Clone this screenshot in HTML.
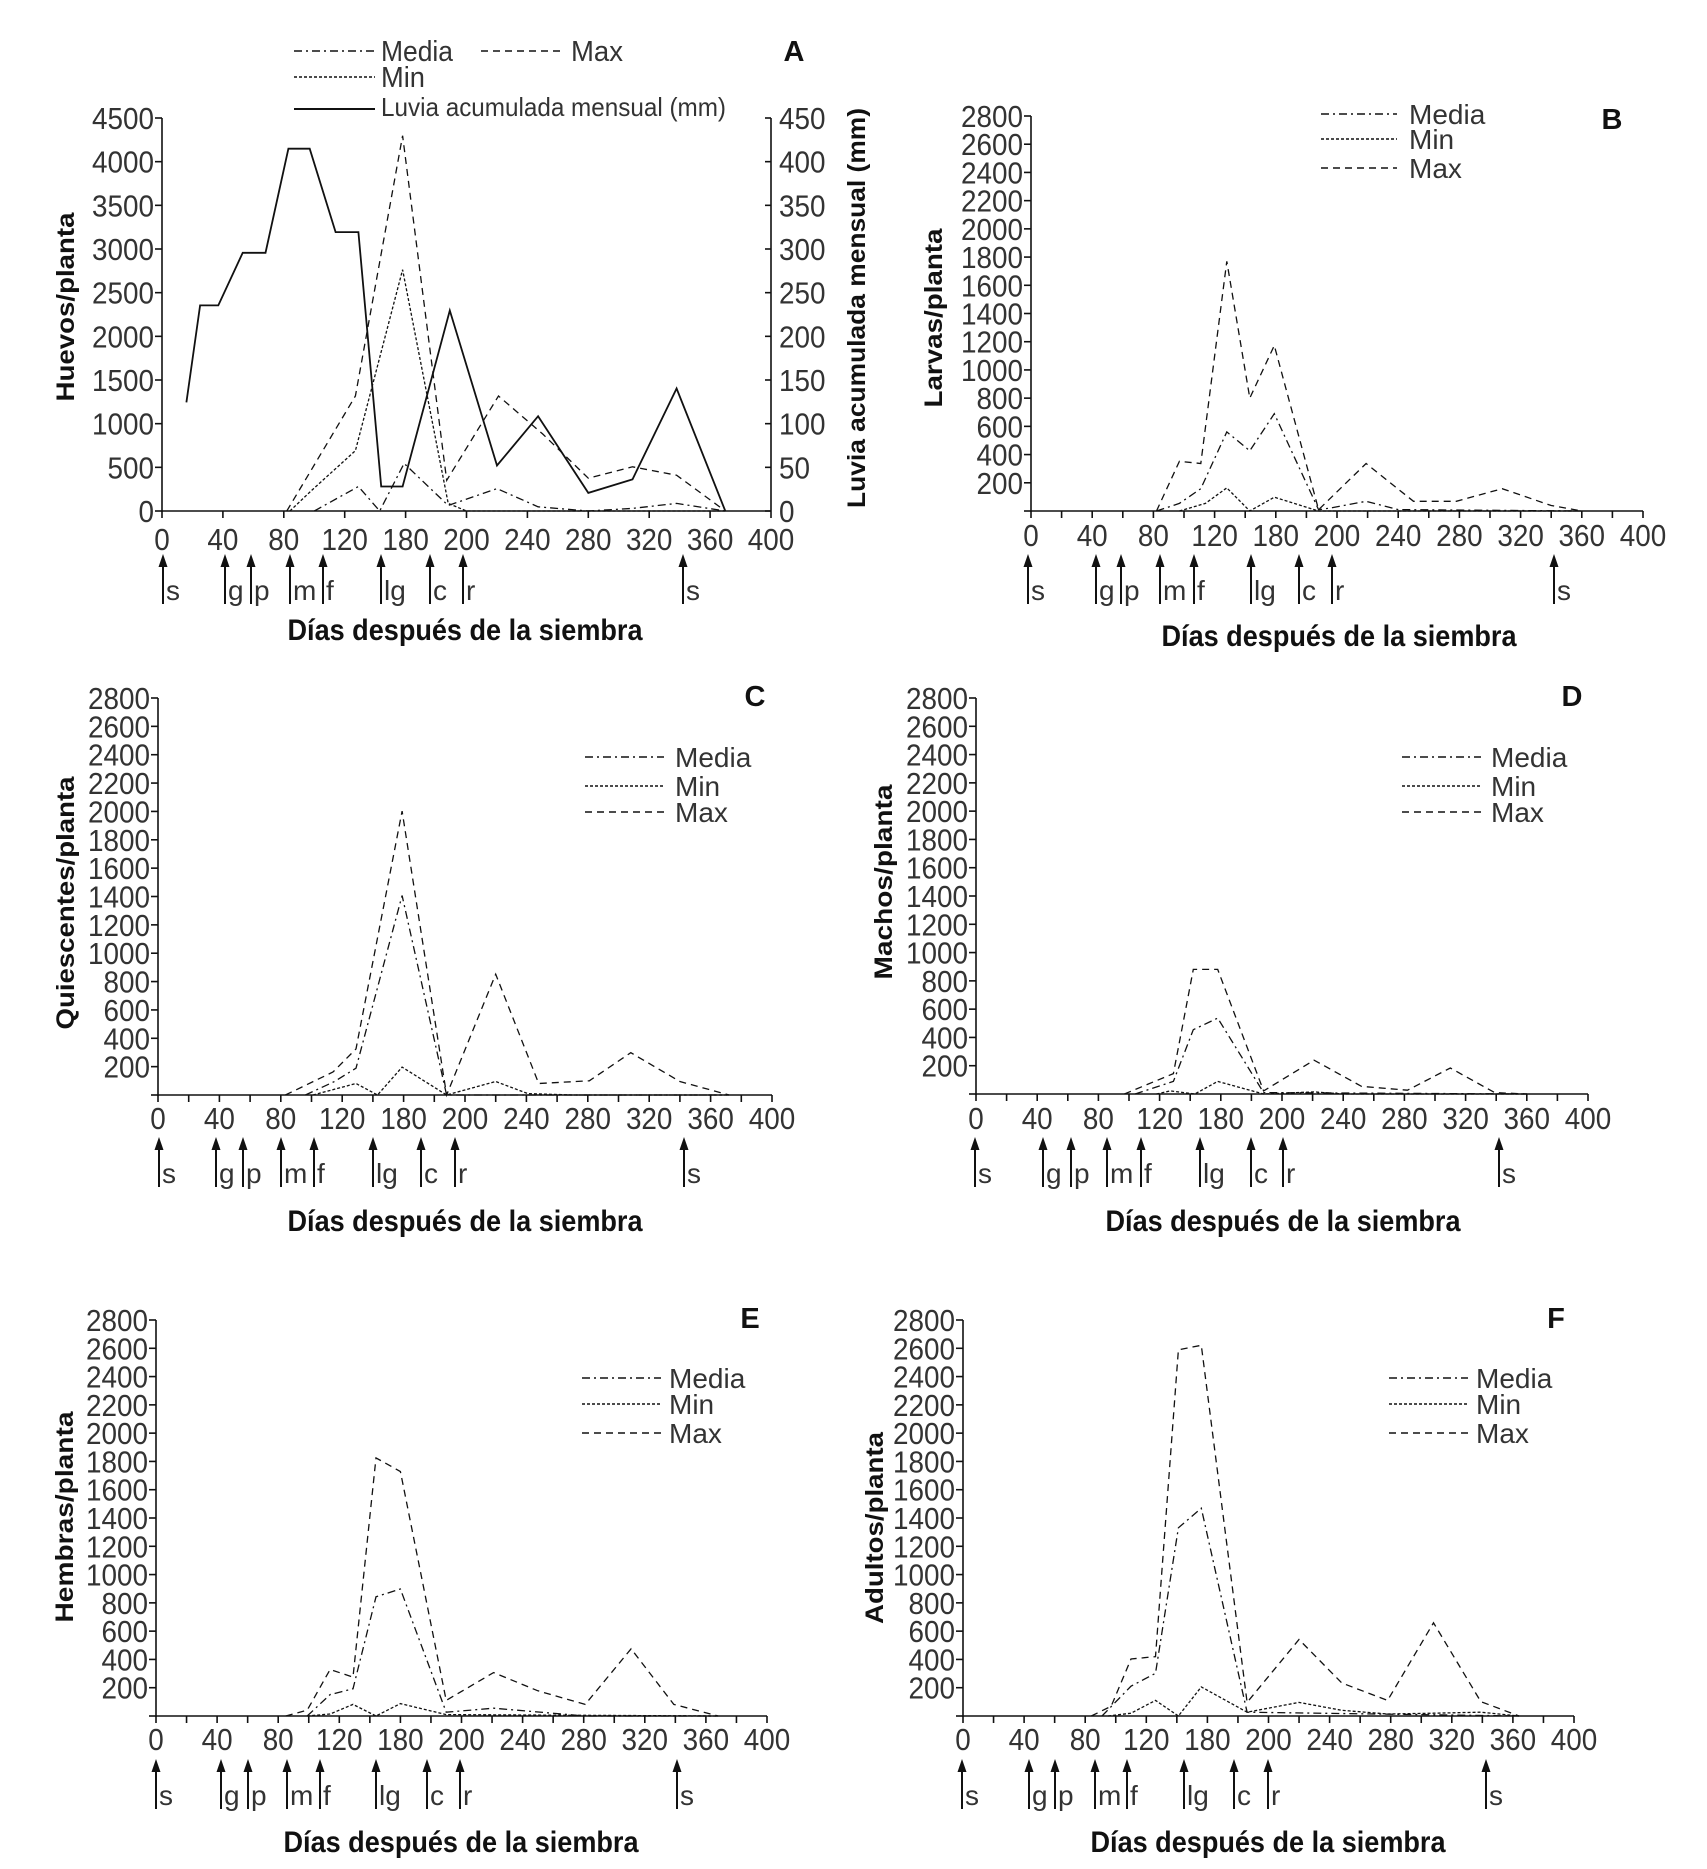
<!DOCTYPE html>
<html><head><meta charset="utf-8">
<style>
html,body{margin:0;padding:0;background:#fff;}
svg{display:block;}
.t{font-family:"Liberation Sans Narrow","Liberation Sans",sans-serif;fill:#333;}
.b{font-family:"Liberation Sans Narrow","Liberation Sans",sans-serif;font-weight:bold;fill:#111;}
.yl{font-family:"Liberation Sans",sans-serif;font-weight:bold;fill:#111;}
</style></head>
<body>
<svg id="s" xmlns="http://www.w3.org/2000/svg" width="1707" height="1869" viewBox="0 0 1707 1869"></svg>
<script>
const S=document.getElementById('s');
let out='';
const XL=["0","40","80","120","180","200","240","280","320","360","400"];
const DS={max:"7,5",media:"8,4,2,4",min:"3,2",rain:""};
function line(x1,y1,x2,y2,w,d){out+=`<line x1="${x1}" y1="${y1}" x2="${x2}" y2="${y2}" stroke="#111" stroke-width="${w||1.6}" ${d?`stroke-dasharray="${d}"`:''}/>`;}
function text(x,y,s,cls,size,anchor,len,extra){out+=`<text x="${x}" y="${y}" class="${cls}" font-size="${size}" text-anchor="${anchor||'start'}" ${len?`textLength="${len}" lengthAdjust="spacingAndGlyphs"`:''} ${extra||''}>${s}</text>`;}
function panel(c){
  const {L,R,T,Z}=c;
  line(L,T,L,Z+1);line(L,Z,R,Z);
  const n=c.ymax/c.ystep;
  for(let i=0;i<=n;i++){const y=Z-i*(Z-T)/n;line(L-7,y,L,y);
    if(i>0||c.zero) text(L-8,y+11,String(i*c.ystep),'t',31,'end',String(i*c.ystep).length*15.5);}
  const m=400/c.xstep;
  for(let i=0;i<=m;i++){const x=L+i*(R-L)/m;line(x,Z,x,Z+7);}
  XL.forEach((s,i)=>{const x=L+i*(R-L)/10;text(x,c.lblY+11,s,'t',31,'middle',s.length*15.5);});
  const labs=['s','g','p','m','f','lg','c','r','s'];
  c.arrows.forEach((x,i)=>{line(x,c.aT+8,x,c.aB,2);
    out+=`<polygon points="${x-4.5},${c.aT+13} ${x},${c.aT} ${x+4.5},${c.aT+13}" fill="#111"/>`;
    text(x+3,c.aB-4,labs[i],'t',28,'start');});
  text(c.title[0],c.title[1]+10,'Días después de la siembra','b',30,'middle',355);
  out+=`<text class="yl" font-size="25" text-anchor="middle" transform="translate(${c.ylab[0]+9},${c.ylab[1]}) rotate(-90)" textLength="${c.ylab[3]}" lengthAdjust="spacingAndGlyphs">${c.ylab[2]}</text>`;
  text(c.letter[0],c.letter[1]+10,c.letter[2],'b',29,'middle');
  for(const k in c.series){
    const pts=c.series[k].map(p=>[(L+p[0]/400*(R-L)).toFixed(1),(Z-p[1]/c.ymax*(Z-T)).toFixed(1)].join(',')).join(' ');
    out+=`<polyline points="${pts}" fill="none" stroke="#111" stroke-width="${k=='rain'?1.8:1.3}" ${DS[k]?`stroke-dasharray="${DS[k]}"`:''}/>`;
  }
  if(c.legend){const g=c.legend;
    [['Media','media'],['Min','min'],['Max','max']].forEach((e,i)=>{const y=g.ys[i];
      line(g.x1,y,g.x2,y,1.6,DS[e[1]]);text(g.tx,y+10,e[0],'t',28,'start');});}
}
panel({L:162,R:771,T:118,Z:511,ymax:4500,ystep:500,zero:true,xstep:40,lblY:539,
 aT:554,aB:604,arrows:[163,225,251,290,323,381,430,463,683],
 title:[465,630],ylab:[65,307,'Huevos/planta',189],letter:[794,51,'A'],
 series:{
  rain:[[16,1244],[25,2354],[37,2354],[53,2956],[68,2956],[83,4148],[97,4148],[114,3193],[129,3193],[144,280],[158,280],[189,2296],[220,521],[247,1085],[280,207],[309,362],[338,1403],[370,0]],
  max:[[82,0],[127,1317],[158,4297],[187,352],[221,1317],[250,883],[280,376],[309,506],[338,410],[370,0]],
  min:[[84,0],[98,231],[127,690],[158,2763],[188,87],[200,0],[370,0]],
  media:[[100,0],[129,280],[143,0],[159,545],[188,63],[220,256],[247,48],[280,0],[309,30],[338,87],[370,0]]}});
line(771,118,771,511);
for(let i=0;i<=9;i++){const y=511-i*(511-118)/9;line(765,y,771,y);text(779,y+11,String(i*50),'t',31,'start',String(i*50).length*15.5);}
out+=`<text class="yl" font-size="25" text-anchor="middle" transform="translate(865,308) rotate(-90)" textLength="400" lengthAdjust="spacingAndGlyphs">Luvia acumulada mensual (mm)</text>`;
line(294,51,375,51,1.6,DS.media);text(381,61,'Media','t',29,'start',72);
line(481,51,560,51,1.6,DS.max);text(571,61,'Max','t',29,'start',52);
line(294,77,375,77,1.6,DS.min);text(381,87,'Min','t',29,'start',44);
line(294,109,375,109,2);text(381,116,'Luvia acumulada mensual (mm)','t',26,'start',345);
panel({L:1031,R:1643,T:116,Z:511,ymax:2800,ystep:200,xstep:20,lblY:535,
 aT:554,aB:604,arrows:[1028,1096,1121,1160,1194,1251,1299,1332,1554],
 title:[1339,636],ylab:[933,318,'Larvas/planta',179],letter:[1612,119,'B'],
 legend:{x1:1321,x2:1397,tx:1409,ys:[114,139,168]},
 series:{
  max:[[82,0],[97,352],[111,337],[128,1770],[143,800],[159,1173],[188,9],[219,337],[250,69],[278,69],[308,158],[340,39],[360,0]],
  media:[[82,0],[97,54],[111,158],[128,561],[143,427],[159,690],[188,9],[195,20],[219,69],[240,10],[360,0]],
  min:[[97,0],[114,54],[128,164],[143,0],[159,98],[188,0],[360,0]]}});
panel({L:158,R:772,T:698,Z:1095,ymax:2800,ystep:200,xstep:20,lblY:1118,
 aT:1137,aB:1187,arrows:[159,216,243,281,314,373,421,455,684],
 title:[465,1221],ylab:[65,903,'Quiescentes/planta',253],letter:[755,696,'C'],
 legend:{x1:585,x2:664,tx:675,ys:[757,786,812]},
 series:{
  max:[[83,0],[114,162],[129,325],[159,2002],[188,0],[220,852],[248,81],[281,100],[308,298],[340,95],[372,0]],
  media:[[96,0],[115,95],[129,189],[159,1407],[188,0],[372,0]],
  min:[[101,0],[129,81],[143,0],[159,197],[188,0],[220,95],[241,10],[270,0],[372,0]]}});
panel({L:976,R:1588,T:698,Z:1094,ymax:2800,ystep:200,xstep:20,lblY:1118,
 aT:1137,aB:1187,arrows:[975,1043,1071,1107,1141,1200,1251,1283,1499],
 title:[1283,1221],ylab:[883,882,'Machos/planta',195],letter:[1572,696,'D'],
 legend:{x1:1402,x2:1481,tx:1491,ys:[757,786,812]},
 series:{
  max:[[97,0],[129,144],[142,881],[158,881],[188,22],[221,239],[252,54],[282,27],[310,184],[339,10],[360,0]],
  media:[[104,0],[129,89],[142,455],[158,537],[188,10],[360,0]],
  min:[[118,0],[127,22],[143,0],[158,89],[188,0],[221,15],[240,0],[360,0]]}});
panel({L:156,R:767,T:1320,Z:1716,ymax:2800,ystep:200,xstep:20,lblY:1739,
 aT:1759,aB:1809,arrows:[156,221,248,287,320,376,427,460,677],
 title:[461,1842],ylab:[64,1517,'Hembras/planta',211],letter:[750,1318,'E'],
 legend:{x1:582,x2:661,tx:669,ys:[1378,1404,1433]},
 series:{
  max:[[85,0],[99,41],[114,329],[129,275],[144,1825],[160,1729],[190,110],[221,307],[250,178],[281,82],[311,475],[339,82],[368,0]],
  media:[[99,0],[114,151],[129,192],[144,843],[160,898],[190,27],[221,55],[281,0],[368,0]],
  min:[[99,0],[114,14],[129,82],[144,0],[160,88],[190,10],[368,0]]}});
panel({L:963,R:1574,T:1320,Z:1716,ymax:2800,ystep:200,xstep:20,lblY:1739,
 aT:1759,aB:1809,arrows:[962,1029,1055,1095,1127,1184,1234,1268,1486],
 title:[1268,1842],ylab:[874,1528,'Adultos/planta',192],letter:[1556,1318,'F'],
 legend:{x1:1389,x2:1468,tx:1476,ys:[1378,1404,1433]},
 series:{
  max:[[84,0],[97,69],[110,403],[126,420],[141,2589],[156,2621],[186,96],[220,541],[248,233],[278,110],[308,659],[339,102],[364,0]],
  media:[[91,0],[110,211],[126,302],[141,1331],[156,1469],[186,27],[364,0]],
  min:[[95,0],[110,20],[126,110],[141,0],[156,206],[186,27],[220,96],[248,40],[278,14],[308,20],[339,27],[364,0]]}});
S.innerHTML=out;
</script>
</body></html>
